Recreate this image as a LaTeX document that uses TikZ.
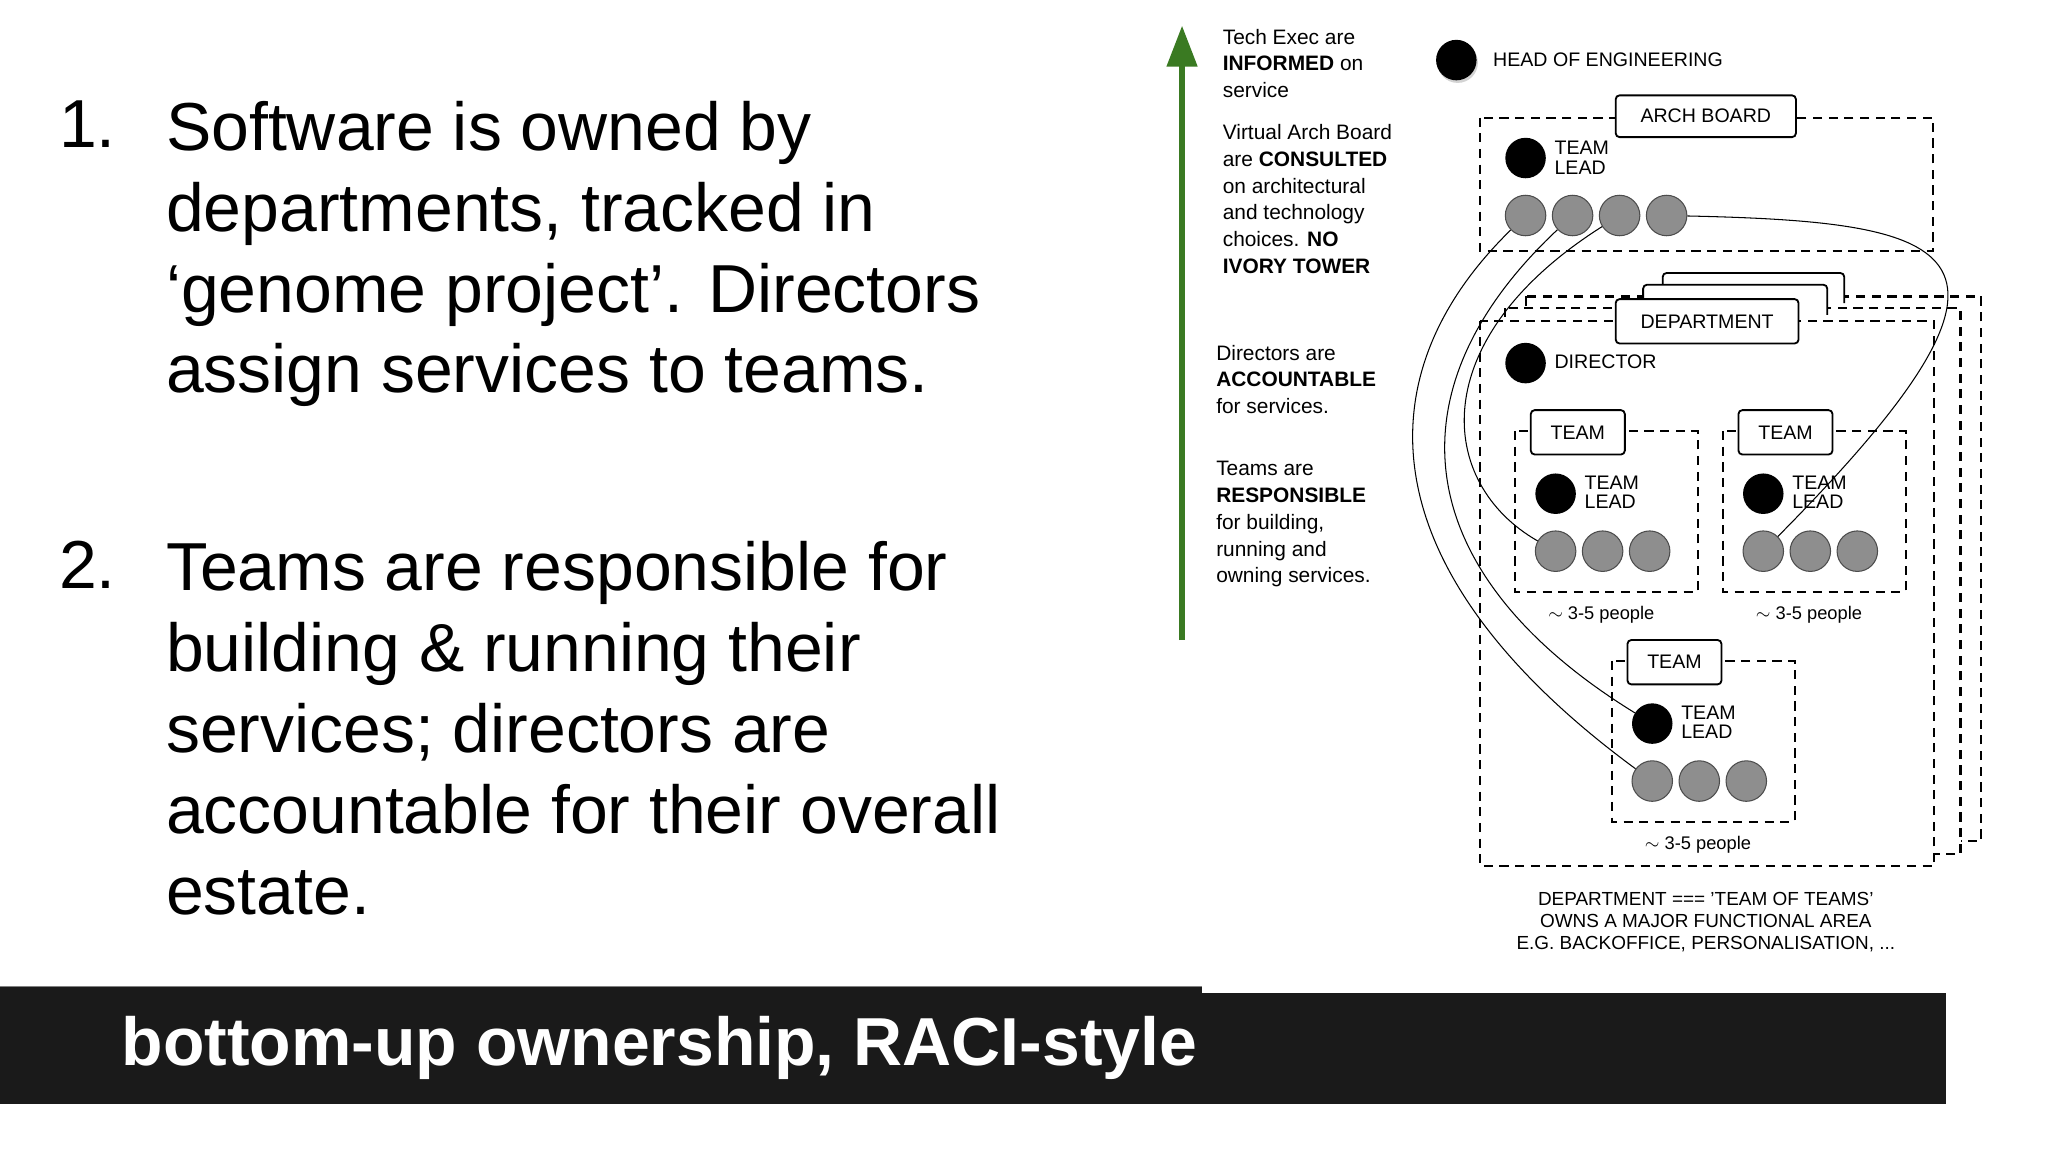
\documentclass[tikz,border=0pt]{standalone}
\usepackage{fontspec}
\setmainfont{Liberation Sans}
\usetikzlibrary{shadows}
\definecolor{barc}{HTML}{1A1A1A}
\definecolor{grn}{HTML}{3A7A22}
\definecolor{gc}{HTML}{8E8E8E}
\begin{document}
\begin{tikzpicture}[x=1pt,y=-1pt,
  dbox/.style={draw,line width=1.6pt,dash pattern=on 7pt off 5pt,fill=white},
  lbl/.style={draw,line width=1.4pt,rounded corners=3pt,fill=white,font=\fontsize{15}{15}\selectfont,inner sep=0pt},
  bdot/.style={circle,fill=black,minimum size=31pt,inner sep=0pt},
  gdot/.style={circle,fill=gc,draw=black!70,line width=0.8pt,minimum size=31pt,inner sep=0pt},
  sm/.style={font=\fontsize{15}{15}\selectfont,inner sep=0pt},
  side/.style={font=\fontsize{16}{20.5}\selectfont,align=left,anchor=north west,inner sep=0pt},
  big/.style={font=\fontsize{52}{62}\selectfont,align=left,anchor=north west,inner sep=0pt},
  curve/.style={line width=0.8pt}]
\useasboundingbox (0,0) rectangle (1568,882);
% left text
\node[big] (n1) at (45,77) {1.};
\node[big] (t1) at (127,77) {Software is owned by\\departments, tracked in\\‘genome project’. Directors\\assign services to teams.};
\node[big] (n2) at (45,414) {2.};
\node[big] (t2) at (127,414) {Teams are responsible for\\building \& running their\\services; directors are\\accountable for their overall\\estate.};
% bar
\fill[barc] (0,756) rectangle (920,845);
\fill[barc] (920,760) rectangle (1490,845);
\draw[gray,line width=1pt] (0,755.5) -- (920,755.5);
\node[font=\bfseries\fontsize{52}{52}\selectfont,text=white,anchor=west,inner sep=0pt] (bar) at (93,802) {bottom-up ownership, RACI-style};
% green arrow
\coordinate (ab) at (905,490);
\coordinate (at) at (905,20);
\draw[grn,line width=4pt] (ab) -- (905,48);
\fill[grn] (at) -- (917,51) -- (893,51) -- cycle;
% side texts
\node[side] (s1) at (936,22) {Tech Exec are\\\textbf{INFORMED} on\\service};
\node[side] (s2) at (936,95) {Virtual Arch Board\\are \textbf{CONSULTED}\\on architectural\\and technology\\choices. \textbf{NO}\\\textbf{IVORY TOWER}};
\node[side] (s3) at (931,264) {Directors are\\\textbf{ACCOUNTABLE}\\for services.};
\node[side] (s4) at (931,353) {Teams are\\\textbf{RESPONSIBLE}\\for building,\\running and\\owning services.};
% head
\node[bdot,drop shadow={opacity=0.35,shadow xshift=1pt,shadow yshift=-2pt}] (head) at (1115,46) {};
\node[sm,anchor=west] (headl) at (1143,46) {HEAD OF ENGINEERING};
% arch board
\draw[dbox] (1133,90) rectangle (1480,192);
\node[lbl,minimum width=138pt,minimum height=32pt] (abl) at (1306,89) {ARCH BOARD};
\node[bdot] (atl) at (1168,121) {};
\node[sm,anchor=west,align=left] (atlt) at (1190,121) {TEAM\\LEAD};
\foreach \i/\x in {1/1168,2/1204,3/1240,4/1276}{\node[gdot] (ag\i) at (\x,165) {};}
% department stack
\draw[dbox] (1168,227) rectangle (1517,644);
\draw[dbox] (1152,236) rectangle (1501,654);
\draw[lbl] (1273,230) -- (1273,209) -- (1412,209) -- (1412,232);
\draw[lbl] (1258,240) -- (1258,218) -- (1399,218) -- (1399,241);
\draw[dbox] (1133,246) rectangle (1481,663);
\node[lbl,minimum width=140pt,minimum height=34pt] (dep) at (1307,246) {DEPARTMENT};
\node[bdot] (dir) at (1168,278) {};
\node[sm,anchor=west] (dirl) at (1190,277) {DIRECTOR};
% teams
\foreach \k/\dx/\dy/\ppx/\ppy in {1/0/0/1226/471,2/159/0/1385/471,3/74/176/1300/647}{
  \begin{scope}[shift={(\dx,\dy)}]
  \draw[dbox] (1160,330) rectangle (1300,453);
  \node[lbl,minimum width=72pt,minimum height=34pt] (tl\k) at (1208,331) {TEAM};
  \node[bdot] (tld\k) at (1191,378) {};
  \node[sm,anchor=west,align=left] (tlt\k) at (1213,377) {TEAM\\LEAD};
  \node[gdot] (tg\k a) at (1191,422) {};
  \node[gdot] (tg\k b) at (1227,422) {};
  \node[gdot] (tg\k c) at (1263,422) {};
  \end{scope}
  \node[sm,font=\fontsize{14}{14}\selectfont] (pp\k) at (\ppx,\ppy) {$\sim$ 3-5 people};
}
% curves
\draw[curve] (ag1) .. controls (1040,290) and (1050,440) .. (tg3a);
\draw[curve] (ag2) .. controls (1060,300) and (1080,440) .. (tld3);
\draw[curve] (ag3) .. controls (1090,260) and (1100,370) .. (tg1a);
\draw[curve] (ag4) .. controls (1500,170) and (1580,190) .. (tg2a);
% bottom text
\node[sm,font=\fontsize{14.5}{17}\selectfont,align=center] (bt) at (1306,706) {DEPARTMENT === 'TEAM OF TEAMS'\\OWNS A MAJOR FUNCTIONAL AREA\\E.G. BACKOFFICE, PERSONALISATION, ...};
\end{tikzpicture}
\end{document}
